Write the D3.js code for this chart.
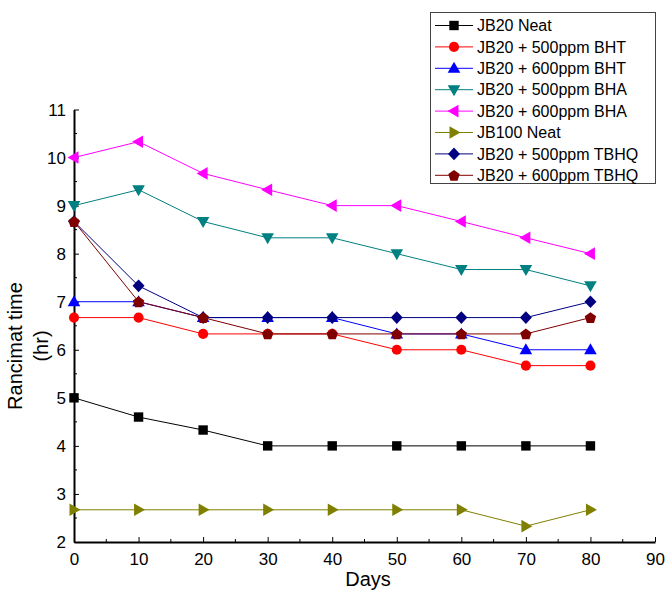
<!DOCTYPE html>
<html>
<head>
<meta charset="utf-8">
<script src="https://cdn.jsdelivr.net/npm/d3@7"></script>
<style>
  body { margin: 0; background: #fff; }
  svg { display: block; font-family: "Liberation Sans", Arial, sans-serif; }
</style>
</head>
<body>
<div id="chart"></div>
<script>
const days = [0, 10, 20, 30, 40, 50, 60, 70, 80];

const jb20Neat    = [5, 4.6, 4.33, 4, 4, 4, 4, 4, 4];
const bht500      = [6.67, 6.67, 6.33, 6.33, 6.33, 6, 6, 5.67, 5.67];
const bht600      = [7, 7, 6.67, 6.67, 6.67, 6.33, 6.33, 6, 6];
const bha500      = [9, 9.33, 8.67, 8.33, 8.33, 8, 7.67, 7.67, 7.33];
const bha600      = [10, 10.33, 9.67, 9.33, 9, 9, 8.67, 8.33, 8];
const jb100Neat   = [2.67, 2.67, 2.67, 2.67, 2.67, 2.67, 2.67, 2.33, 2.67];
const tbhq500     = [8.67, 7.33, 6.67, 6.67, 6.67, 6.67, 6.67, 6.67, 7];
const tbhq600     = [8.67, 7, 6.67, 6.33, 6.33, 6.33, 6.33, 6.33, 6.67];

const seriesNames = [
  'JB20 Neat', 'JB20 + 500ppm BHT', 'JB20 + 600ppm BHT', 'JB20 + 500ppm BHA',
  'JB20 + 600ppm BHA', 'JB100 Neat', 'JB20 + 500ppm TBHQ', 'JB20 + 600ppm TBHQ'
];
const seriesValues = [jb20Neat, bht500, bht600, bha500, bha600, jb100Neat, tbhq500, tbhq600];
const seriesColors = ['#000000', '#ff0000', '#0000ff', '#008080', '#ff00ff', '#808000', '#000080', '#800000'];
const seriesMarkers = ['square', 'circle', 'up', 'down', 'left', 'right', 'diamond', 'pentagon'];

const xTicks = [0, 10, 20, 30, 40, 50, 60, 70, 80, 90];
const yTicks = [2, 3, 4, 5, 6, 7, 8, 9, 10, 11];

const width = 669, height = 590;
const x = d3.scaleLinear().domain([0, 90]).range([74, 655]);
const y = d3.scaleLinear().domain([2, 11]).range([542, 109.5]);

const svg = d3.select('#chart').append('svg')
  .attr('width', width)
  .attr('height', height);

// marker paths centred on 0,0
function markerPath(kind) {
  switch (kind) {
    case 'square': return 'M-4.7,-4.7H4.7V4.7H-4.7Z';
    case 'circle': return d3.symbol(d3.symbolCircle, 80)();
    case 'up': return 'M0,-6.5L6.3,4.5H-6.3Z';
    case 'down': return 'M0,6.5L6.3,-4.5H-6.3Z';
    case 'left': return 'M-6.5,0L4.5,-6.3V6.3Z';
    case 'right': return 'M6.5,0L-4.5,-6.3V6.3Z';
    case 'diamond': return 'M0,-6.3L6,0L0,6.3L-6,0Z';
    case 'pentagon': {
      const pts = d3.range(5).map(i => {
        const a = -Math.PI / 2 + i * 2 * Math.PI / 5;
        return [6 * Math.cos(a), 6 * Math.sin(a) + 0.6];
      });
      return 'M' + pts.map(p => p.join(',')).join('L') + 'Z';
    }
  }
}

// axes
const xAxis = d3.axisBottom(x).tickValues(xTicks).tickSizeInner(-5).tickSizeOuter(0).tickPadding(11);
const yAxis = d3.axisLeft(y).tickValues(yTicks).tickSizeInner(-5).tickSizeOuter(0).tickPadding(8);

const gx = svg.append('g').attr('transform', `translate(0,${y(2)})`).call(xAxis);
const gy = svg.append('g').attr('transform', `translate(${x(0)},0)`).call(yAxis);

[gx, gy].forEach(g => {
  g.select('.domain').attr('stroke', '#000').attr('stroke-width', 2);
  g.selectAll('.tick line').attr('stroke', '#000').attr('stroke-width', 1);
  g.selectAll('.tick text').attr('font-size', 17).attr('fill', '#000')
    .attr('font-family', '"Liberation Sans", Arial, sans-serif');
});
gy.selectAll('.tick text').attr('dy', '0.35em');

// minor ticks
svg.append('g').selectAll('line')
  .data(d3.range(5, 90, 10))
  .enter().append('line')
  .attr('x1', d => x(d)).attr('x2', d => x(d))
  .attr('y1', y(2)).attr('y2', y(2) - 3)
  .attr('stroke', '#000');
svg.append('g').selectAll('line')
  .data(d3.range(2.5, 11, 1))
  .enter().append('line')
  .attr('x1', x(0)).attr('x2', x(0) + 3)
  .attr('y1', d => y(d)).attr('y2', d => y(d))
  .attr('stroke', '#000');

// axis titles
svg.append('text')
  .attr('x', 368).attr('y', 586)
  .attr('text-anchor', 'middle')
  .attr('font-size', 20)
  .text('Days');

const yTitle = svg.append('text')
  .attr('transform', 'translate(22,346) rotate(-90)')
  .attr('text-anchor', 'middle')
  .attr('font-size', 20);
yTitle.append('tspan').attr('x', 0).attr('y', 0).text('Rancimat time');
yTitle.append('tspan').attr('x', 0).attr('y', 26).text('(hr)');

// series
const line = d3.line().x((d, i) => x(days[i])).y(d => y(d));

seriesValues.forEach((vals, s) => {
  svg.append('path')
    .attr('d', line(vals))
    .attr('fill', 'none')
    .attr('stroke', seriesColors[s])
    .attr('stroke-width', 1);
});
seriesValues.forEach((vals, s) => {
  svg.append('g').selectAll('path')
    .data(vals)
    .enter().append('path')
    .attr('d', markerPath(seriesMarkers[s]))
    .attr('transform', (d, i) => `translate(${x(days[i])},${y(d)})`)
    .attr('fill', seriesColors[s]);
});

// legend
const legend = svg.append('g');
legend.append('rect')
  .attr('x', 430.5).attr('y', 12.5)
  .attr('width', 225).attr('height', 171)
  .attr('fill', '#fff')
  .attr('stroke', '#444')
  .attr('stroke-width', 1);

seriesNames.forEach((name, s) => {
  const ly = 25.5 + s * 21.4;
  legend.append('line')
    .attr('x1', 435).attr('x2', 473)
    .attr('y1', ly).attr('y2', ly)
    .attr('stroke', seriesColors[s]);
  legend.append('path')
    .attr('d', markerPath(seriesMarkers[s]))
    .attr('transform', `translate(454,${ly})`)
    .attr('fill', seriesColors[s]);
  legend.append('text')
    .attr('x', 477).attr('y', ly)
    .attr('dy', '0.35em')
    .attr('font-size', 16)
    .text(name);
});
</script>
</body>
</html>
